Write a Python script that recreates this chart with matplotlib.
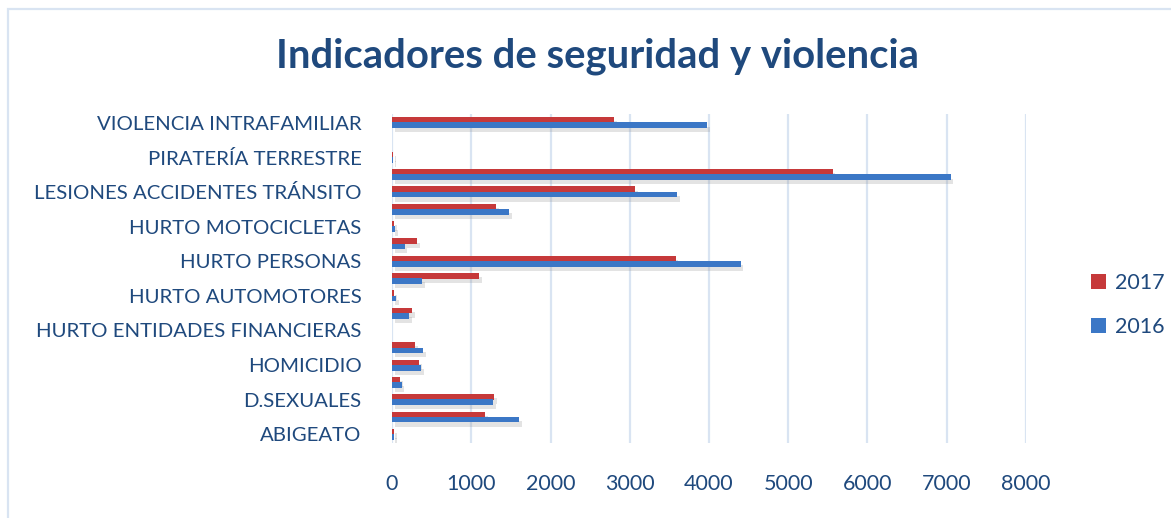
import matplotlib
matplotlib.use("Agg")
import matplotlib.pyplot as plt
import matplotlib.patches as mpatches
import matplotlib.patheffects as pe
import numpy as np

categories = [
    "ABIGEATO", "AMENAZAS", "D.SEXUALES", "EXTORSIÓN", "HOMICIDIO",
    "HOMICIDIOS ACCIDENTES TRÁNSITO", "HURTO ENTIDADES FINANCIERAS", "HURTO CABEZAS GANADO",
    "HURTO AUTOMOTORES", "HURTO COMERCIO", "HURTO PERSONAS", "HURTO RESIDENCIAS",
    "HURTO MOTOCICLETAS", "LESIONES PERSONALES", "LESIONES ACCIDENTES TRÁNSITO",
    "LESIONES COMUNES", "PIRATERÍA TERRESTRE", "SECUESTRO", "VIOLENCIA INTRAFAMILIAR",
]
values_2017 = [25, 1170, 1290, 100, 340, 290, 0, 250, 30, 1100, 3580, 320, 30, 1310, 3070, 5560, 10, 0, 2800]
values_2016 = [25, 1600, 1280, 120, 365, 390, 0, 220, 50, 380, 4400, 160, 40, 1480, 3600, 7050, 10, 0, 3980]
series_labels = ["2017", "2016"]
x_ticks = [0, 1000, 2000, 3000, 4000, 5000, 6000, 7000, 8000]

TEXT = "#1F497D"
RED = "#C6393A"
BLUE = "#3B77C6"
GRID = "#D9E4F2"
FONT = "Lato"

W, H = 1171, 518
fig = plt.figure(figsize=(W / 100, H / 100), dpi=100)

# outer chart border (extends beyond right/bottom edges)
border = mpatches.Rectangle((8 / W, -0.1), 2.0, 1 - 9 / H + 0.1, transform=fig.transFigure,
                            fill=False, edgecolor=GRID, linewidth=1.6)
fig.patches.append(border)

left, right = 392 / W, 1026 / W
top, bottom = 1 - 114 / H, 1 - 443 / H
ax = fig.add_axes([left, bottom, right - left, top - bottom])

y = np.arange(len(categories))
h = 0.33
shadow = [pe.SimplePatchShadow(offset=(2, -3), shadow_rgbFace="#909090", alpha=0.25), pe.Normal()]
b17 = ax.barh(y + 0.15, values_2017, height=h, color=RED, label=series_labels[0], zorder=3)
b16 = ax.barh(y - 0.15, values_2016, height=h, color=BLUE, label=series_labels[1], zorder=3)
for bars in (b17, b16):
    for p in bars:
        p.set_path_effects(shadow)

ax.set_xlim(0, 8000)
ax.set_ylim(-0.5, len(categories) - 0.5)
ax.set_xticks(x_ticks)
ax.set_xticklabels([str(t) for t in x_ticks])
ax.set_yticks(y[::2])
ax.set_yticklabels(categories[::2])
ax.tick_params(axis="both", length=0, labelcolor=TEXT)
ax.tick_params(axis="y", pad=22, labelsize=14.7)
ax.tick_params(axis="x", pad=22, labelsize=15.5)
for lab in ax.get_xticklabels() + ax.get_yticklabels():
    lab.set_fontfamily(FONT)
ax.grid(axis="x", color=GRID, linewidth=1.6, zorder=0)
ax.set_axisbelow(True)
for s in ax.spines.values():
    s.set_visible(False)

fig.text(597 / W, 1 - 56 / H, "Indicadores de seguridad y violencia", ha="center", va="center",
         fontsize=28.8, fontweight="bold", color=TEXT, fontfamily=FONT)

leg = fig.legend(handles=[b17, b16], labels=series_labels, loc="center left",
                 bbox_to_anchor=(1072 / W, 1 - 305 / H), frameon=False,
                 handlelength=0.7, handleheight=0.7, handletextpad=0.4, labelspacing=1.15,
                 prop={"family": FONT, "size": 15.5})
for t in leg.get_texts():
    t.set_color(TEXT)
for hdl in leg.legend_handles:
    hdl.set_path_effects([])

fig.savefig("out.png", dpi=100)
